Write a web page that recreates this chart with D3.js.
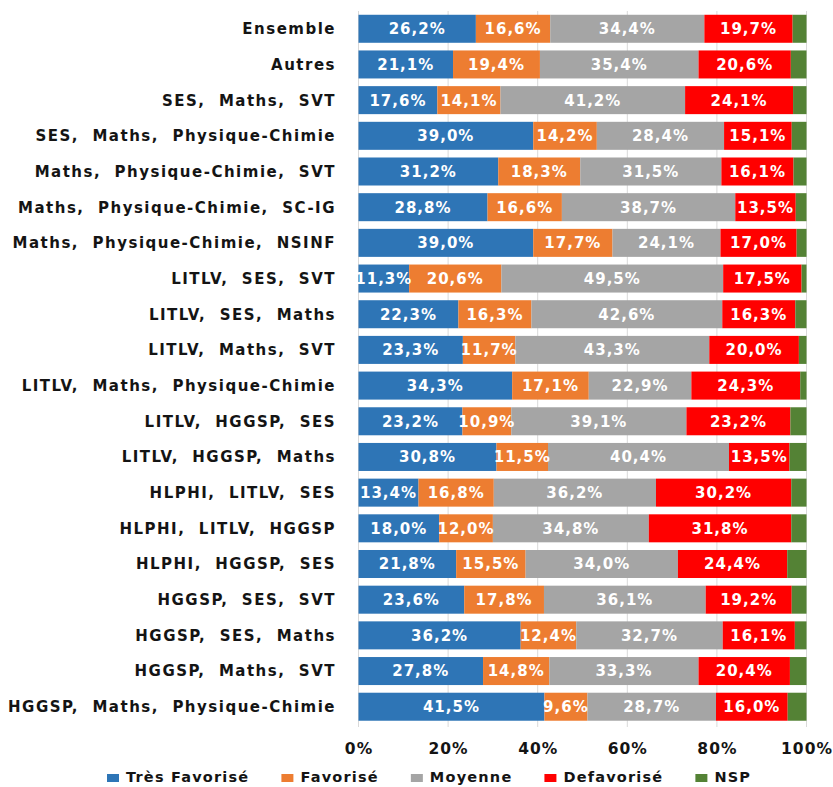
<!DOCTYPE html>
<html>
<head>
<meta charset="utf-8">
<script src="https://cdn.jsdelivr.net/npm/d3@7"></script>
<style>
  html, body { margin: 0; padding: 0; background: #ffffff; }
  svg { display: block; }
  text { font-family: "DejaVu Sans", Verdana, sans-serif; font-weight: bold; }
</style>
</head>
<body>
<svg id="chart" width="833" height="787"></svg>
<script>
// ---- Data ----
const categories = [
  "Ensemble",
  "Autres",
  "SES,  Maths,  SVT",
  "SES,  Maths,  Physique-Chimie",
  "Maths,  Physique-Chimie,  SVT",
  "Maths,  Physique-Chimie,  SC-IG",
  "Maths,  Physique-Chimie,  NSINF",
  "LITLV,  SES,  SVT",
  "LITLV,  SES,  Maths",
  "LITLV,  Maths,  SVT",
  "LITLV,  Maths,  Physique-Chimie",
  "LITLV,  HGGSP,  SES",
  "LITLV,  HGGSP,  Maths",
  "HLPHI,  LITLV,  SES",
  "HLPHI,  LITLV,  HGGSP",
  "HLPHI,  HGGSP,  SES",
  "HGGSP,  SES,  SVT",
  "HGGSP,  SES,  Maths",
  "HGGSP,  Maths,  SVT",
  "HGGSP,  Maths,  Physique-Chimie"
];
const seriesNames = ["Très Favorisé", "Favorisé", "Moyenne", "Defavorisé", "NSP"];
const tresFavorise = [26.2, 21.1, 17.6, 39.0, 31.2, 28.8, 39.0, 11.3, 22.3, 23.3, 34.3, 23.2, 30.8, 13.4, 18.0, 21.8, 23.6, 36.2, 27.8, 41.5];
const favorise     = [16.6, 19.4, 14.1, 14.2, 18.3, 16.6, 17.7, 20.6, 16.3, 11.7, 17.1, 10.9, 11.5, 16.8, 12.0, 15.5, 17.8, 12.4, 14.8, 9.6];
const moyenne      = [34.4, 35.4, 41.2, 28.4, 31.5, 38.7, 24.1, 49.5, 42.6, 43.3, 22.9, 39.1, 40.4, 36.2, 34.8, 34.0, 36.1, 32.7, 33.3, 28.7];
const defavorise   = [19.7, 20.6, 24.1, 15.1, 16.1, 13.5, 17.0, 17.5, 16.3, 20.0, 24.3, 23.2, 13.5, 30.2, 31.8, 24.4, 19.2, 16.1, 20.4, 16.0];
const nsp          = [3.1, 3.5, 3.0, 3.3, 2.9, 2.4, 2.2, 1.1, 2.5, 1.7, 1.4, 3.6, 3.8, 3.4, 3.4, 4.3, 3.3, 2.6, 3.7, 4.2];
const tickValues = [0, 20, 40, 60, 80, 100];
const colors = ["#2E75B6", "#ED7D31", "#A5A5A5", "#FF0000", "#548235"];

// ---- Build table ----
const seriesValues = [tresFavorise, favorise, moyenne, defavorise, nsp];
const keys = ["tf", "f", "m", "d", "nsp"];
const table = categories.map((c, i) => {
  const row = { cat: c };
  keys.forEach((k, j) => row[k] = seriesValues[j][i]);
  return row;
});
const stacked = d3.stack().keys(keys)(table);

// ---- Layout ----
const svg = d3.select("#chart");
const x = d3.scaleLinear().domain([0, 100]).range([358.5, 806.5]);
const y = d3.scaleBand().domain(categories).range([11.2, 724.3]).paddingInner(0.215).paddingOuter(0.1);
const color = d3.scaleOrdinal().domain(keys).range(colors);

// gridlines
svg.append("g").selectAll("line").data(tickValues).join("line")
  .attr("x1", d => x(d)).attr("x2", d => x(d))
  .attr("y1", 11).attr("y2", 727)
  .attr("stroke", "#D9D9D9").attr("stroke-width", 1);

// bars
const layers = svg.append("g").selectAll("g").data(stacked).join("g")
  .attr("fill", d => color(d.key));
layers.selectAll("rect").data(d => d).join("rect")
  .attr("x", d => x(d[0]))
  .attr("width", d => x(d[1]) - x(d[0]))
  .attr("y", d => y(d.data.cat))
  .attr("height", y.bandwidth());

// data labels (not on NSP)
const labelLayers = svg.append("g").selectAll("g").data(stacked.filter(s => s.key !== "nsp")).join("g");
labelLayers.selectAll("text").data(d => d).join("text")
  .attr("x", d => (x(d[0]) + x(d[1])) / 2)
  .attr("y", d => y(d.data.cat) + y.bandwidth() / 2)
  .attr("dy", "0.36em")
  .attr("text-anchor", "middle")
  .attr("fill", "#ffffff")
  .style("font-size", "15px")
  .style("letter-spacing", "1px")
  .text(d => (d[1] - d[0]).toFixed(1).replace(".", ",") + "%");

// category labels
svg.append("g").selectAll("text").data(categories).join("text")
  .attr("x", 336)
  .attr("y", d => y(d) + y.bandwidth() / 2)
  .attr("dy", "0.36em")
  .attr("text-anchor", "end")
  .attr("fill", "#141414")
  .style("font-size", "15px")
  .style("letter-spacing", "1.5px")
  .style("white-space", "pre")
  .text(d => d);

// x axis
const xAxis = d3.axisBottom(x).tickValues(tickValues).tickSize(0).tickPadding(0)
  .tickFormat(d => d + "%");
const gx = svg.append("g").attr("transform", "translate(0,748)").call(xAxis);
gx.select(".domain").remove();
gx.selectAll("text")
  .attr("y", 0).attr("dy", "0.36em")
  .attr("fill", "#141414")
  .style("font-size", "15.5px")
  .style("letter-spacing", "1px")
  .style("font-family", "'DejaVu Sans', Verdana, sans-serif")
  .style("font-weight", "bold");

// legend
const legend = svg.append("g").attr("transform", "translate(0,777)");
let lx = 107;
seriesNames.forEach((name, i) => {
  const g = legend.append("g").attr("transform", `translate(${lx},0)`);
  g.append("rect").attr("x", 0).attr("y", -3).attr("width", 12).attr("height", 8).attr("fill", colors[i]);
  const t = g.append("text").attr("x", 19).attr("y", 0).attr("dy", "0.36em")
    .attr("fill", "#141414")
    .style("font-size", "14.5px")
    .style("letter-spacing", "1.2px")
    .text(name);
  lx += 19 + t.node().getComputedTextLength() + 32;
});
</script>
</body>
</html>
